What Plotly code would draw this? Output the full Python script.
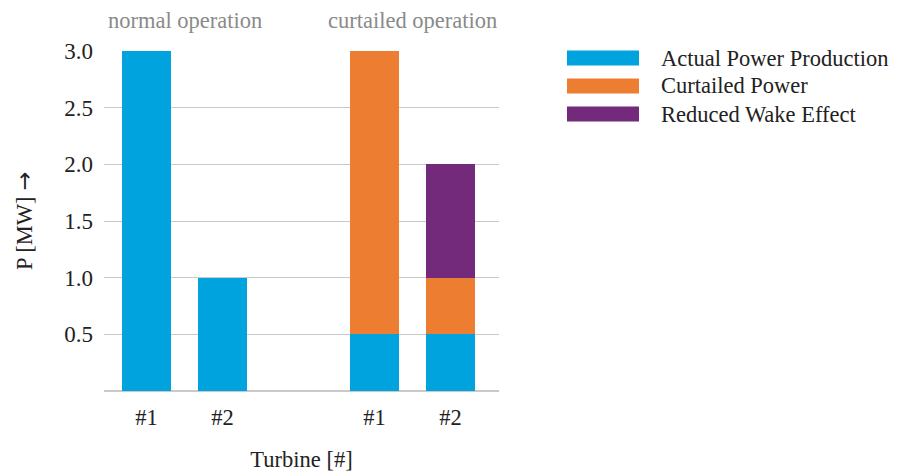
import plotly.graph_objects as go

# categories (a blank slot separates the two operation modes)
categories = ["N#1", "N#2", " ", "C#1", "C#2"]
tick_labels = ["#1", "#2", "", "#1", "#2"]
bar_cats = ["N#1", "N#2", "C#1", "C#2"]
series_names = ["Actual Power Production", "Curtailed Power", "Reduced Wake Effect"]
actual = [3.0, 1.0, 0.5, 0.5]
curtailed = [0.0, 0.0, 2.5, 0.5]
reduced_wake = [0.0, 0.0, 0.0, 1.0]
colors = ["#00a3dd", "#ed7d31", "#732a7b"]
group_labels = ["normal operation", "curtailed operation"]
y_ticks = [0.5, 1.0, 1.5, 2.0, 2.5, 3.0]

FONT = "Liberation Serif"
FS = 22.5

fig = go.Figure()
for name, vals, col in zip(series_names, [actual, curtailed, reduced_wake], colors):
    fig.add_trace(go.Bar(x=bar_cats, y=vals, name=name, marker=dict(color=col, line=dict(width=0)),
                         showlegend=False))

W, H = 897, 473
ml, mt = 104, 51
mr, mb = W - 499, H - 391
pw, ph = W - ml - mr, H - mt - mb

fig.update_layout(
    width=W, height=H,
    margin=dict(l=ml, r=mr, t=mt, b=mb, pad=0, autoexpand=False),
    barmode="stack", bargap=0.355,
    plot_bgcolor="white", paper_bgcolor="white",
    font=dict(family=FONT, size=FS, color="#222"),
    xaxis=dict(type="category", categoryorder="array", categoryarray=categories,
               tickmode="array", tickvals=categories, ticktext=tick_labels,
               range=[-0.56, 4.64], showgrid=False, showline=False, ticks="",
               ticklabelstandoff=10, tickfont=dict(size=FS), automargin=False,
               title=dict(text="Turbine [#]", standoff=22, font=dict(size=FS, family=FONT))),
    yaxis=dict(range=[0, 3.0], tickvals=y_ticks, tickformat=".1f",
               showgrid=True, gridcolor="#c9c9c9", gridwidth=1,
               zeroline=True, zerolinecolor="#c9c9c9", zerolinewidth=2,
               showline=False, ticks="", ticklabelstandoff=10, tickfont=dict(size=23),
               automargin=False,
               title=dict(text="P [MW] <span style='font-family:DejaVu Sans'>→</span>",
                          standoff=25, font=dict(size=FS, family=FONT))),
)

# group labels above bars
for gx, gl in zip([0.5, 3.5], group_labels):
    fig.add_annotation(x=gx, xref="x", y=1, yref="paper", yshift=31, yanchor="middle",
                       text=gl, showarrow=False, font=dict(size=FS, color="#8a8a8a", family=FONT))

# custom legend with wide swatches (pixel positions -> paper coords)
def px_x(p):
    return (p - ml) / pw

def px_y(p):
    return 1 - (p - mt) / ph

for i, (name, col) in enumerate(zip(series_names, colors)):
    yc = 58 + 28 * i
    fig.add_shape(type="rect", xref="paper", yref="paper",
                  x0=px_x(567), x1=px_x(639), y0=px_y(yc - 7.5), y1=px_y(yc + 7.5),
                  fillcolor=col, line=dict(width=0))
    fig.add_annotation(x=px_x(659), y=px_y(yc), xref="paper", yref="paper",
                       xanchor="left", yanchor="middle", text=name, showarrow=False,
                       font=dict(size=FS, color="#222", family=FONT))

fig.write_html("out.html", config={"displayModeBar": False},
               post_script="document.body.style.margin='0';document.body.style.overflow='hidden';")
